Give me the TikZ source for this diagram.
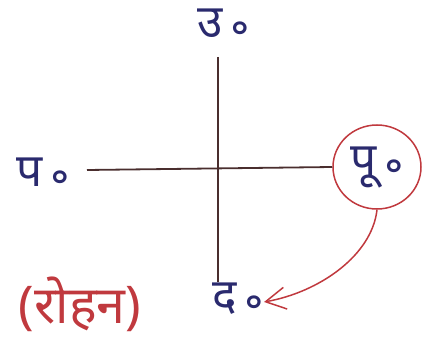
\documentclass[tikz,border=0pt]{standalone}
\usepackage{fontspec}
\newfontfamily\deva[Script=Devanagari]{Noto Sans}
\usetikzlibrary{shapes.geometric,arrows.meta}
\definecolor{ink}{HTML}{2A2A6E}
\definecolor{pen}{HTML}{4A2E2E}
\definecolor{redpen}{HTML}{C0393E}
\newcommand{\abbr}{\,\raisebox{-0.22em}{॰}}
\begin{document}
\begin{tikzpicture}[x=1pt,y=-1pt,
  lbl/.style={text=ink,font=\deva\fontsize{46}{50}\selectfont,inner sep=0pt},
  axis/.style={draw=pen,line width=1.8pt},
  redline/.style={draw=redpen,line width=1.5pt}]
\useasboundingbox (0,0) rectangle (429,342);
\node[lbl] (N) at (224,28) {उ\abbr};
\node[lbl] (W) at (43,177) {प\abbr};
\node[lbl] (S) at (238,302) {द\abbr};
\node[lbl,ellipse,redline,minimum width=88pt,minimum height=84pt] (E) at (377,167) {पू\abbr};
\node[text=redpen,font=\deva\fontsize{52}{56}\selectfont,inner sep=0pt] (R) at (80,304) {(रोहन)};
\coordinate (top) at (218,57);
\coordinate (bot) at (218,282);
\coordinate (lft) at (87,170);
\draw[axis] (top) -- (bot);
\draw[axis] (lft) -- (E.west);
\draw[redline,-{Straight Barb[length=20pt,width=22pt]}] (E.south) .. controls (372,255) and (320,292) .. (S.east);
\end{tikzpicture}
\end{document}
